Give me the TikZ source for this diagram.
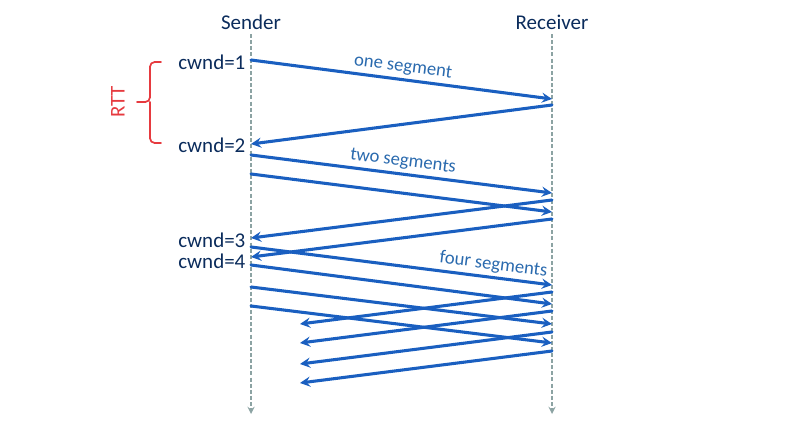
\documentclass[tikz,border=0pt]{standalone}
\usepackage{fontspec}
\setmainfont{Carlito}
\definecolor{navy}{HTML}{0B2C5C}
\definecolor{segblue}{HTML}{1A5FC0}
\definecolor{lblblue}{HTML}{2A6AAE}
\definecolor{lifegray}{HTML}{8CA3A3}
\definecolor{rttred}{HTML}{E63A3F}
\begin{document}
\begin{tikzpicture}[x=0.75pt,y=-0.75pt,>=stealth, font=\fontsize{15.75}{18}\selectfont, line join=round, line cap=round,
	head/.style={text=navy},
	cw/.style={text=navy, anchor=east, inner sep=1pt},
	life/.style={->, lifegray, line width=1.4pt, line cap=butt, dash pattern=on 3pt off 1.6pt},
	msg/.style={->, segblue, line width=2.3pt},
	lbl/.style={text=lblblue, font=\fontsize{14}{16}\selectfont, sloped, above}]
	\useasboundingbox (0,0) rectangle (789,431);
	\def\xs{251} \def\xr{552} % lifelines
	\def\xa{300} % end of late acks
	\node[head] (S) at (\xs,22) {Sender};
	\node[head] (R) at (\xr,22) {Receiver};
	\coordinate (Se) at (\xs,414);
	\coordinate (Re) at (\xr,414);
	\draw[life] (S) -- (Se);
	\draw[life] (R) -- (Re);
	% segments: sender -> receiver
	\foreach \n/\a/\b in {1/60/99, 2/155/193, 3/174/212, 4/247/285, 5/265/304, 6/287/324, 7/306/343}
		{\coordinate (s\n) at (\xs,\a); \coordinate (r\n) at (\xr,\b); \draw[msg] (s\n) -- (r\n);}
	% acks: receiver -> sender
	\foreach \n/\a/\b/\x in {1/105/144/\xs, 2/200/238/\xs, 3/219/257/\xs, 4/292/324/\xa, 5/311/343/\xa, 6/332/364/\xa, 7/351/383/\xa}
		{\coordinate (ra\n) at (\xr,\a); \coordinate (sa\n) at (\x,\b); \draw[msg] (ra\n) -- (sa\n);}
	\path (s1) -- (r1) node[lbl, midway] {one segment};
	\path (s2) -- (r2) node[lbl, midway] {two segments};
	\path (s4) -- (r4) node[lbl, pos=0.8] {four segments};
	\node[cw] (c1) at (247,62) {cwnd=1};
	\node[cw] (c2) at (247,145) {cwnd=2};
	\node[cw] (c3) at (247,240) {cwnd=3};
	\node[cw] (c4) at (247,261) {cwnd=4};
	% RTT
	\draw[rttred, line width=1.3pt, rounded corners=3.5pt] (161,62) -- (150,62) -- (150,102) -- (137,102) (150,102) -- (150,143) -- (161,143);
	\node[text=rttred, rotate=90] (rtt) at (118,102) {RTT};
\end{tikzpicture}
\end{document}
